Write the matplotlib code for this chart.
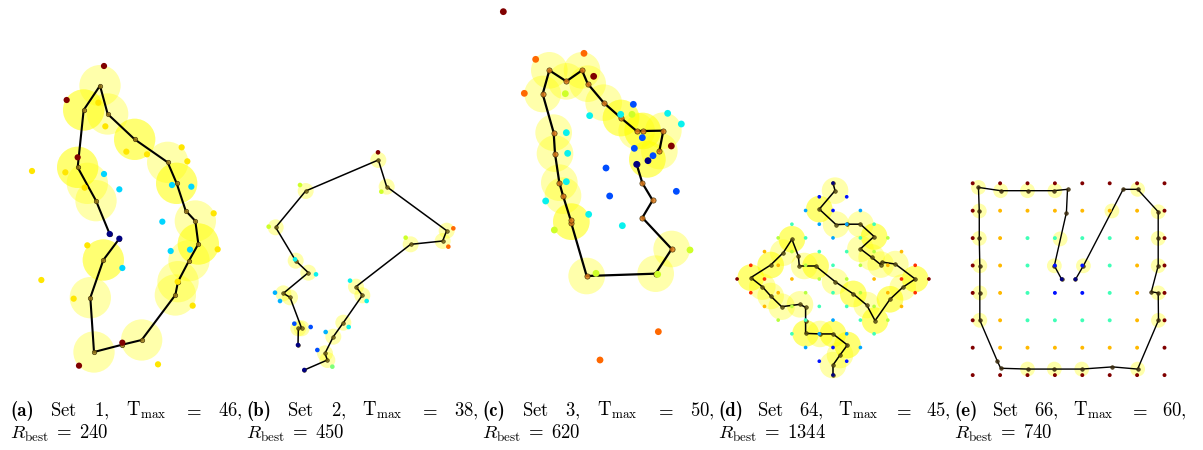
import os
import numpy as np
import matplotlib
import matplotlib.pyplot as plt
from matplotlib.patches import Circle
from matplotlib.font_manager import FontProperties

plt.rcParams["mathtext.fontset"] = "cm"

FIG_W, FIG_H = 1203, 450

# ----------------------------------------
# (a) SET 1  (map units)
# ----------------------------------------
a_x = [312, 200, 233, 367, 237,
       329, 358,
       96, 295, 316, 379, 441, 545, 562, 196, 254, 641, 653, 262, 124, 221, 533, 578, 474,
       312, 358, 516, 574, 487, 512, 570, 367]
a_y = [48, 150, 322, 878, 947,
       552, 566,
       363, 158, 229, 305, 313, 292, 334, 367, 413, 490, 598, 586, 690, 746, 695, 767, 943,
       372, 418, 405, 410, 515, 603, 599, 654]
a_reward = [15, 15, 15, 15, 15,
            0, 0,
            10, 10, 10, 10, 10, 10, 10, 10, 10, 10, 10, 10, 10, 10, 10, 10, 10,
            5, 5, 5, 5, 5, 5, 5, 5]
a_path_x = [329, 288, 233, 251, 300, 323, 404, 503, 530, 557, 586, 595, 567, 534, 526,
            425, 367, 282, 271, 310, 358]
a_path_y = [552, 452, 352, 180, 107, 192, 268, 337, 400, 482, 513, 582, 632, 695, 735,
            870, 884, 906, 743, 630, 566]
a_circle_x = [300, 251, 251, 323, 404, 404, 503, 530, 530, 233, 233, 262, 288,
              586, 595, 595, 567, 534, 526, 310, 310, 271, 282, 425]
a_circle_y = [107, 180, 180, 192, 268, 268, 337, 400, 400, 352, 352, 400, 452,
              513, 582, 582, 632, 695, 735, 630, 630, 743, 906, 870]

# ----------------------------------------
# (b) SET 2
# ----------------------------------------
b_x = [414, 640, 625, 180, 424, 86, 497, 277,
       165, 228, 330, 380, 326, 105, 120, 257, 163, 212, 232, 193, 174]
b_y = [37, 265, 320, 135, 155, 260, 293, 680,
       358, 403, 422, 483, 561, 458, 483, 576, 551, 561, 630, 690, 615]
b_reward = [50, 40, 40, 30, 30, 30, 30, 25,
            18, 18, 18, 18, 18, 15, 15, 15, 10, 10, 10, 0, 0]
b_path_x = [193, 262, 255, 280, 310, 367, 348, 512, 608, 620, 440, 415, 197, 107,
            167, 205, 130, 150, 185, 175, 174]
b_path_y = [690, 660, 640, 590, 548, 466, 440, 313, 303, 272, 140, 60, 153, 262,
            362, 398, 460, 472, 565, 565, 615]
b_circle_x = b_path_x[1:-1]
b_circle_y = b_path_y[1:-1]

# ----------------------------------------
# (c) SET 3
# ----------------------------------------
c_x = [40, 311, 544,
       137, 282, 103, 505, 330,
       226, 426, 193, 318, 600, 503,
       299, 392, 533, 574, 229, 233, 229, 167, 296, 397,
       430, 457, 433, 489, 348, 359, 559,
       440, 474]
c_y = [35, 229, 438,
       178, 160, 280, 995, 1080,
       281, 343, 690, 820, 750, 823,
       347, 343, 340, 372, 398, 460, 545, 603, 643, 677,
       313, 413, 445, 467, 504, 588, 574,
       493, 482]
c_reward = [50, 50, 50,
            40, 40, 40, 40, 40,
            30, 30, 30, 30, 30, 30,
            18, 18, 18, 18, 18, 18, 18, 18, 18, 18,
            10, 10, 10, 10, 10, 10, 10,
            0, 0]
c_path_x = [440, 457, 488, 457, 545, 497, 290, 244, 242, 219, 208, 195, 191, 158,
            178, 229, 276, 293, 341, 393, 440, 458, 520, 508]
c_path_y = [493, 549, 601, 653, 747, 821, 828, 670, 660, 587, 548, 461, 398, 282,
            211, 244, 211, 251, 308, 354, 393, 393, 392, 453]
c_circle_x = [178, 229, 276, 293, 341, 393, 393, 440, 458, 458, 520, 508, 472, 472,
              158, 191, 195, 208, 219, 244, 244, 290, 497, 545]
c_circle_y = [211, 244, 211, 251, 308, 354, 354, 393, 393, 393, 392, 453, 478, 478,
              282, 398, 461, 548, 587, 665, 665, 828, 821, 747]

# ----------------------------------------
# (d) SET 64  (grid units)
# ----------------------------------------
d_col = [0,
         -1, 1,
         -2, 0, 2,
         -3, -1, 1, 3,
         -4, -2, 0, 2, 4,
         -5, -3, -1, 1, 3, 5,
         -6, -4, -2, 0, 2, 4, 6,
         -7, -5, -3, -1, 1, 3, 5, 7,
         -6, -4, -2, 0, 2, 4, 6,
         -5, -3, -1, 1, 3, 5,
         -4, -2, 0, 2, 4,
         -3, -1, 1, 3,
         -2, 0, 2,
         -1, 1,
         0]
d_row = [-7,
         -6, -6,
         -5, -5, -5,
         -4, -4, -4, -4,
         -3, -3, -3, -3, -3,
         -2, -2, -2, -2, -2, -2,
         -1, -1, -1, -1, -1, -1, -1,
         0, 0, 0, 0, 0, 0, 0, 0,
         1, 1, 1, 1, 1, 1, 1,
         2, 2, 2, 2, 2, 2,
         3, 3, 3, 3, 3,
         4, 4, 4, 4,
         5, 5, 5,
         6, 6,
         7]
d_reward = [0,
            6, 6,
            12, 6, 12,
            18, 12, 12, 18,
            24, 18, 12, 18, 24,
            30, 24, 18, 18, 24, 30,
            36, 30, 24, 18, 24, 30, 36,
            42, 36, 30, 24, 24, 30, 36, 42,
            36, 30, 24, 18, 24, 30, 36,
            30, 24, 18, 18, 24, 30,
            24, 18, 12, 18, 24,
            18, 12, 12, 18,
            12, 6, 12,
            6, 6,
            0]
d_path_x = [0.0, 0.15, -1.0, 0.22, 1.0, 2.0, 3.0, 2.0, 2.82, 3.48, 3.55, 4.55, 6.0,
            5.09, 4.16, 3.07, 2.46, 1.48, 0.15, -1.27, -2.46, -2.53, -3.0, -3.63,
            -4.55, -6.0, -5.16, -4.55, -3.75, -2.41, -2.0, -2.0, -2.0, -0.95, 0.0,
            1.05, 0.51, 0.0, 0.0]
d_path_y = [-7.0, -6.45, -5.1, -3.97, -4.0, -4.0, -3.1, -2.2, -1.58, -1.05, -1.24,
            -1.09, 0.0, 0.61, 1.48, 3.04, 1.9, 1.09, 0.19, -0.95, -0.95, -1.68, -2.9,
            -1.92, -1.02, -0.1, 0.56, 1.24, 2.02, 1.85, 2.07, 3.04, 3.97, 4.01, 4.01,
            4.82, 5.55, 6.28, 7.0]
d_circle_x = [0.15, -1.0, -1.0, 0.22, 2.0, 3.0, 3.0, 2.0, 2.82, 3.48, 4.55, 6.0, 6.0,
              5.09, 4.16, 4.16, 3.07, 3.07, 2.46, 1.48, 1.48, 0.15, -1.27, -1.27,
              -2.1, -3.0, -3.0, -3.63, -4.55, -4.55, -6.0, -6.0, -5.16, -4.55,
              -3.75, -2.41, -2.0, -2.0, -0.95, 0.0, 0.0, 1.05, 1.05, 0.51, 0.0]
d_circle_y = [-6.45, -5.1, -5.1, -3.97, -4.0, -3.1, -3.1, -2.2, -1.58, -1.05, -1.09,
              0.0, 0.0, 0.61, 1.48, 1.48, 3.04, 3.04, 1.9, 1.09, 1.09, 0.19, -0.95,
              -0.95, -0.95, -2.9, -2.9, -1.92, -1.02, -1.02, -0.1, -0.1, 0.56, 1.24,
              2.02, 1.85, 3.97, 3.97, 4.01, 4.01, 4.01, 4.82, 4.82, 5.55, 6.28]

# ----------------------------------------
# (e) SET 66  (grid units)
# ----------------------------------------
e_cols = [0, 1, 2, 3, 4, 5, 6, 7]
e_rows = [0, 1, 2, 3, 4, 5, 6, 7]
e_reward_grid = [[35, 35, 35, 35, 35, 35, 35, 35],
                 [35, 25, 25, 25, 25, 25, 25, 35],
                 [35, 25, 15, 15, 15, 15, 25, 35],
                 [35, 25, 15, 5, 5, 15, 25, 35],
                 [35, 25, 15, 5, 5, 15, 25, 35],
                 [35, 25, 15, 15, 15, 15, 25, 35],
                 [35, 25, 25, 25, 25, 25, 25, 35],
                 [35, 35, 35, 35, 35, 35, 35, 35]]
e_depot_x = [3.25, 3.75]
e_depot_y = [3.5, 3.5]
e_path_x = [3.25, 2.98, 3.42, 3.46, 2.95, 2.0, 1.02, 0.21, 0.24, 0.24, 0.26, 0.26,
            0.26, 0.9, 1.02, 2.0, 2.98, 3.98, 5.1, 6.02, 6.78, 6.77, 6.52, 6.77,
            6.77, 6.77, 6.02, 5.49, 4.04, 3.75]
e_path_y = [3.51, 3.01, 1.07, 0.22, 0.27, 0.27, 0.27, 0.15, 1.01, 2.01, 3.01, 4.0,
            5.0, 6.49, 6.75, 6.78, 6.78, 6.78, 6.7, 6.78, 5.0, 4.0, 3.96, 3.01,
            2.01, 1.04, 0.22, 0.22, 3.01, 3.51]
e_circle_x = [0.21, 1.02, 2.0, 3.0, 0.24, 0.24, 0.26, 0.26, 0.26, 2.0, 2.98, 3.98,
              6.02, 6.78, 6.77, 6.77, 6.77, 6.77, 6.02, 5.08, 4.04, 2.98, 3.19]
e_circle_y = [0.15, 0.27, 0.27, 0.27, 1.01, 2.01, 3.01, 4.0, 5.0, 6.78, 6.78, 6.78,
              6.78, 5.0, 4.0, 3.01, 2.01, 1.04, 0.22, 1.01, 3.01, 3.01, 2.03]

# caption values
labels = ["a", "b", "c", "d", "e"]
set_numbers = [1, 2, 3, 64, 66]
t_max = [46, 38, 50, 45, 60]
r_best = [240, 450, 620, 1344, 740]


# ............................................
# HELPERS
# ............................................
fig = plt.figure(figsize=(FIG_W / 100, FIG_H / 100), dpi=100)


def add_panel(box, origin_px, px_per_unit):
    left, top, w, h = box
    ox, oy = origin_px
    ax = fig.add_axes([left / FIG_W, 1 - (top + h) / FIG_H, w / FIG_W, h / FIG_H])
    ax.set_xlim((left - ox) / px_per_unit, (left + w - ox) / px_per_unit)
    ax.set_ylim((top + h - oy) / px_per_unit, (top - oy) / px_per_unit)
    ax.axis("off")
    return ax


def draw_panel(ax, tx, ty, rew, px, py, cx, cy, radius,
               dot_size, marker_size, marker_color, line_width):
    for x, y in zip(cx, cy):
        ax.add_patch(Circle((x, y), radius, facecolor="yellow", edgecolor="none",
                            alpha=0.33, zorder=1, clip_on=False))
    ax.plot(px, py, color="black", lw=line_width, zorder=2, clip_on=False)
    ax.plot(px, py, "o", ms=marker_size, mfc=marker_color, mec="#3a2a00",
            mew=0.5, alpha=0.85, zorder=3, clip_on=False)
    ax.scatter(tx, ty, c=rew, cmap="jet", vmin=0, vmax=max(rew), s=dot_size,
               edgecolors="none", zorder=4, clip_on=False)


# ----------------------------------------
# PANELS
# ----------------------------------------
ax_a = add_panel((0, 50, 240, 330), (0, 50), 1 / 3)
draw_panel(ax_a, a_x, a_y, a_reward, a_path_x, a_path_y, a_circle_x, a_circle_y,
           62, 20, 3.2, "#9c7c1c", 1.5)

ax_b = add_panel((240, 140, 240, 240), (240, 140), 1 / 3)
draw_panel(ax_b, b_x, b_y, b_reward, b_path_x, b_path_y, b_circle_x, b_circle_y,
           24, 11, 2.6, "#74661a", 1.1)

ax_c = add_panel((490, 0, 230, 370), (490, 0), 1 / 3)
draw_panel(ax_c, c_x, c_y, c_reward, c_path_x, c_path_y, c_circle_x, c_circle_y,
           55, 24, 3.8, "#e07a1a", 1.6)

ax_d = add_panel((713, 169, 240, 220), (833, 279), 13.7)
draw_panel(ax_d, d_col, d_row, d_reward, d_path_x, d_path_y, d_circle_x, d_circle_y,
           0.97, 7, 2.6, "#5a5218", 1.1)

gx, gy = np.meshgrid(e_cols, e_rows)
e_x = list(gx.ravel()) + e_depot_x
e_y = list(gy.ravel()) + e_depot_y
e_reward = list(np.array(e_reward_grid).ravel()) + [0, 0]
ax_e = add_panel((950, 160, 250, 230), (972.7, 183.3), 27.4)
draw_panel(ax_e, e_x, e_y, e_reward, e_path_x, e_path_y, e_circle_x, e_circle_y,
           0.27, 8, 2.6, "#3a2a12", 1.0)

# ----------------------------------------
# CAPTIONS (first line justified)
# ----------------------------------------
FS = 13.5
bold_cm = FontProperties(fname=os.path.join(matplotlib.get_data_path(),
                                            "fonts", "ttf", "cmb10.ttf"), size=FS)
fig.canvas.draw()
renderer = fig.canvas.get_renderer()

LINE1, LINE2 = 416, 439
for i in range(5):
    left = 10 + 236 * i
    right = left + 233
    y1 = 1 - LINE1 / FIG_H
    texts = [fig.text(0, y1, "(%s)" % labels[i], fontproperties=bold_cm,
                      ha="left", va="baseline")]
    for t in [r"$\mathrm{Set}$",
              r"$\mathrm{%d,}$" % set_numbers[i],
              r"$\mathrm{T}_{\mathrm{max}}$",
              r"$=$",
              r"$\mathrm{%d,}$" % t_max[i]]:
        texts.append(fig.text(0, y1, t, fontsize=FS, ha="left", va="baseline"))
    widths = [t.get_window_extent(renderer).width for t in texts]
    gap = (right - left - sum(widths)) / (len(texts) - 1)
    x = left
    for t, w in zip(texts, widths):
        t.set_x(x / FIG_W)
        x += w + gap
    fig.text(left / FIG_W, 1 - LINE2 / FIG_H,
             r"$R_{\mathrm{best}}\;=\;%d$" % r_best[i],
             fontsize=FS, ha="left", va="baseline")

plt.savefig("out.png", dpi=100)
plt.close()
